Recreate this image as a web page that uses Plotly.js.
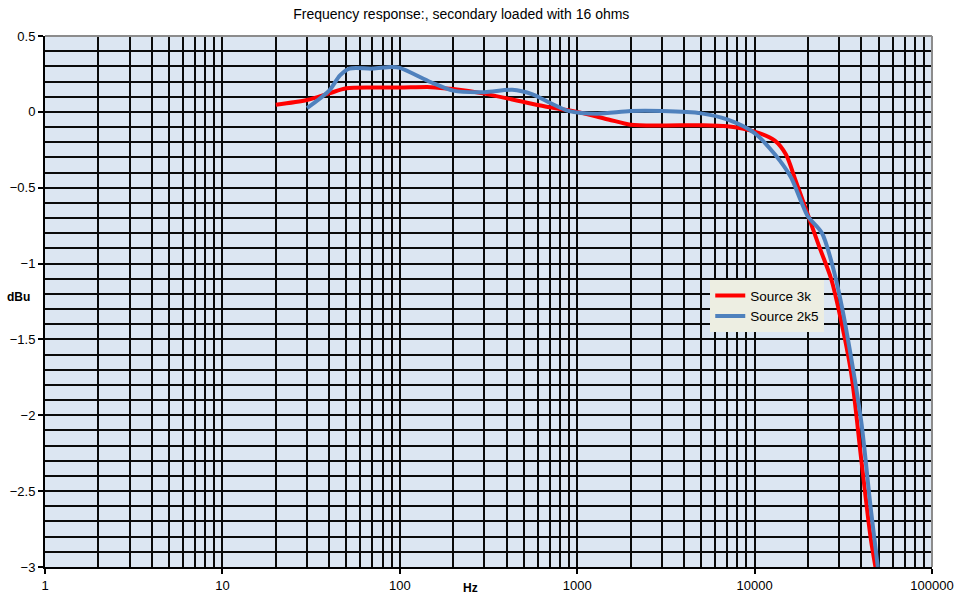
<!DOCTYPE html>
<html>
<head>
<meta charset="utf-8">
<script src="https://cdn.plot.ly/plotly-3.0.1.min.js"></script>
<style>html,body{margin:0;padding:0;background:#fff;}#chart{width:957px;height:597px;}</style>
</head>
<body>
<div id="chart"></div>
<script>
// Source 3k
const freq3k = [20, 30, 40, 50, 70, 100, 150, 200, 300, 500, 700, 1000, 1500, 2000, 3000, 5000, 7000, 10000, 13000, 15000, 17000, 20000, 23000, 27000, 30000, 35000, 40000, 45000, 48000];
const db3k   = [0.047, 0.078, 0.122, 0.155, 0.16, 0.16, 0.163, 0.15, 0.12, 0.065, 0.03, 0.0, -0.05, -0.085, -0.09, -0.088, -0.095, -0.13, -0.19, -0.28, -0.45, -0.68, -0.88, -1.1, -1.32, -1.72, -2.3, -2.8, -3.0];
// Source 2k5
const freq2k5 = [30, 40, 46, 52, 70, 90, 100, 150, 200, 300, 430, 560, 700, 900, 1300, 2000, 3000, 5000, 7000, 10000, 13000, 16000, 18000, 20000, 24000, 28000, 31000, 35000, 40000, 45000, 49500];
const db2k5   = [0.025, 0.14, 0.24, 0.285, 0.285, 0.295, 0.29, 0.195, 0.14, 0.13, 0.145, 0.115, 0.06, 0.005, -0.012, 0.005, 0.005, -0.01, -0.05, -0.14, -0.28, -0.43, -0.57, -0.69, -0.8, -1.05, -1.28, -1.62, -2.05, -2.6, -3.0];

const xTickVals = [1, 10, 100, 1000, 10000, 100000];
const xTickText = ["1", "10", "100", "1000", "10000", "100000"];
const seriesNames = ["Source 3k", "Source 2k5"];

const minorX = [];
for (let d = 1; d < 100000; d *= 10) {
  for (let m = 2; m <= 9; m++) minorX.push(m * d);
}

const traces = [
  {x: freq3k, y: db3k, name: seriesNames[0], type: 'scatter', mode: 'lines',
   line: {color: '#FF0000', width: 4, shape: 'spline', smoothing: 0.8}},
  {x: freq2k5, y: db2k5, name: seriesNames[1], type: 'scatter', mode: 'lines',
   line: {color: '#4F81BD', width: 4, shape: 'spline', smoothing: 0.8}}
];

const gridC = '#0a0a0a';
const layout = {
  width: 957, height: 597,
  margin: {l: 45, r: 25, t: 36, b: 30},
  paper_bgcolor: '#FFFFFF',
  plot_bgcolor: '#DCE6F2',
  font: {family: 'Liberation Sans, Arial, sans-serif', size: 13, color: '#000'},
  title: {text: 'Frequency response:, secondary loaded with 16 ohms', font: {size: 14, color: '#000'},
          x: 0.482, xanchor: 'center', y: 0.976, yanchor: 'middle'},
  showlegend: true,
  legend: {x: 0.75, y: 0.54, xanchor: 'left', yanchor: 'top', bgcolor: '#EDEEE2',
           borderwidth: 0, font: {size: 13.5}, tracegroupgap: 0},
  xaxis: {
    type: 'log', range: [0, 5],
    tickmode: 'array', tickvals: xTickVals, ticktext: xTickText,
    showgrid: true, gridcolor: gridC, gridwidth: 2,
    showline: true, linecolor: '#000', linewidth: 2,
    ticks: 'outside', ticklen: 5, tickcolor: '#000', tickwidth: 2,
    minor: {tickmode: 'array', tickvals: minorX, showgrid: true, gridcolor: gridC, gridwidth: 2, ticks: ''},
    zeroline: false, fixedrange: true
  },
  yaxis: {
    range: [-3, 0.5], dtick: 0.5, tick0: 0,
    showgrid: true, gridcolor: gridC, gridwidth: 2,
    showline: true, linecolor: '#000', linewidth: 2,
    ticks: 'outside', ticklen: 5, tickcolor: '#000', tickwidth: 2,
    minor: {dtick: 0.1, showgrid: true, gridcolor: gridC, gridwidth: 2, ticks: ''},
    zeroline: false, fixedrange: true
  },
  shapes: [
    {type: 'line', xref: 'paper', yref: 'paper', x0: 0, x1: 1, y0: 1, y1: 1, line: {color: '#8C8C8C', width: 2}},
    {type: 'line', xref: 'paper', yref: 'paper', x0: 1, x1: 1, y0: 0, y1: 1, line: {color: '#8C8C8C', width: 2}}
  ],
  annotations: [
    {text: '<b>dBu</b>', xref: 'paper', yref: 'paper', x: -0.03, y: 0.508, xanchor: 'center', yanchor: 'middle',
     showarrow: false, font: {size: 12}},
    {text: '<b>Hz</b>', xref: 'paper', yref: 'paper', x: 0.48, y: -0.04, xanchor: 'center', yanchor: 'middle',
     showarrow: false, font: {size: 12}}
  ]
};

Plotly.newPlot('chart', traces, layout, {displayModeBar: false, staticPlot: true});
</script>
</body>
</html>
